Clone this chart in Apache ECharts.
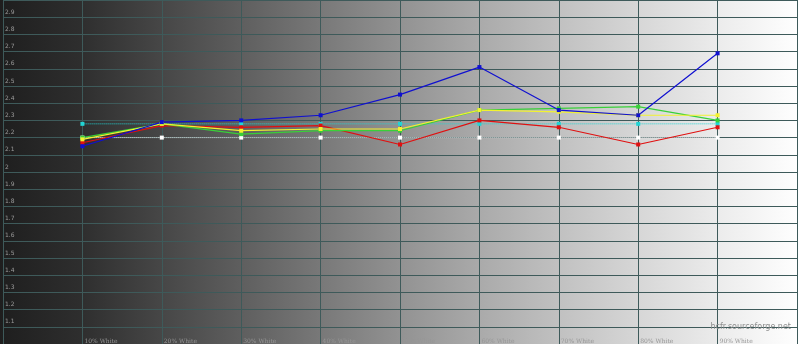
<!DOCTYPE html>
<html>
<head>
<meta charset="utf-8">
<script src="https://cdn.jsdelivr.net/npm/echarts@6/dist/echarts.min.js"></script>
<style>
  html, body { margin: 0; padding: 0; }
  #chart {
    width: 800px; height: 344px;
    background: linear-gradient(to right, #1e1e1e 0%, #2e2e2e 10%, #464646 20%, #5e5e5e 30%, #787878 40%, #929292 50%, #aaaaaa 60%, #c1c1c1 70%, #d7d7d7 80%, #ececec 90%, #ffffff 100%);
  }
</style>
</head>
<body>
<div id="chart"></div>
<script>
var levels = [10, 20, 30, 40, 50, 60, 70, 80, 90];
var redGamma = [2.17, 2.27, 2.26, 2.27, 2.16, 2.30, 2.26, 2.16, 2.26];
var greenGamma = [2.20, 2.28, 2.22, 2.24, 2.24, 2.36, 2.37, 2.38, 2.30];
var blueGamma = [2.15, 2.29, 2.30, 2.33, 2.45, 2.61, 2.36, 2.33, 2.69];
var yellowGamma = [2.19, 2.28, 2.24, 2.25, 2.25, 2.36, 2.35, 2.33, 2.33];
var avgGamma = [2.28, 2.28, 2.28, 2.28, 2.28, 2.28, 2.28, 2.28, 2.28];
var refGamma = [2.2, 2.2, 2.2, 2.2, 2.2, 2.2, 2.2, 2.2, 2.2];

function pairs(vals) {
  var out = [];
  for (var i = 0; i < levels.length; i++) {
    out.push([levels[i], vals[i]]);
  }
  return out;
}

function makeSeries(name, vals, color, dotted, width) {
  return {
    name: name,
    type: 'line',
    data: pairs(vals),
    symbol: 'rect',
    symbolSize: 4,
    itemStyle: { color: color },
    lineStyle: { color: color, width: width, type: dotted ? 'dotted' : 'solid' },
    emphasis: { disabled: true },
    animation: false
  };
}

var chart = echarts.init(document.getElementById('chart'));
chart.setOption({
  backgroundColor: 'transparent',
  title: {
    text: 'hcfr.sourceforge.net',
    right: 4,
    top: 318,
    textStyle: { color: '#8c8c8c', fontSize: 8, fontWeight: 'normal', fontFamily: 'DejaVu Sans' }
  },
  grid: { left: 0, right: 0, top: 0, bottom: 0 },
  xAxis: {
    type: 'value',
    min: 0,
    max: 100,
    interval: 10,
    axisLine: { show: false },
    axisTick: { show: false },
    splitLine: { show: true, lineStyle: { color: '#3e5a5a', width: 1 } },
    axisLabel: {
      inside: true,
      align: 'left',
      verticalAlign: 'bottom',
      margin: 0,
      padding: [0, 0, 0, 2],
      color: '#969696',
      fontSize: 6,
      fontFamily: 'DejaVu Serif',
      formatter: function (v) {
        return (v > 0 && v < 100) ? v + '% White' : '';
      }
    }
  },
  yAxis: {
    type: 'value',
    min: 1,
    max: 3,
    interval: 0.1,
    axisLine: { show: false },
    axisTick: { show: false },
    splitLine: { show: true, lineStyle: { color: '#3e5a5a', width: 1 } },
    axisLabel: {
      inside: true,
      align: 'left',
      verticalAlign: 'bottom',
      margin: 2,
      padding: [0, 0, 2, 0],
      color: '#9a9a9a',
      fontSize: 6,
      fontFamily: 'DejaVu Sans',
      formatter: function (v) {
        var r = Math.round(v * 10) / 10;
        return (r > 1 && r < 3) ? String(r) : '';
      }
    }
  },
  series: [
    makeSeries('Average', avgGamma, '#22d4d4', true, 1),
    makeSeries('Reference', refGamma, '#ffffff', true, 1),
    makeSeries('Red', redGamma, '#e01010', false, 1.2),
    makeSeries('Green', greenGamma, '#38d038', false, 1.2),
    makeSeries('Yellow', yellowGamma, '#f2f230', false, 1.2),
    makeSeries('Blue', blueGamma, '#1010d0', false, 1.2)
  ]
});
</script>
</body>
</html>
